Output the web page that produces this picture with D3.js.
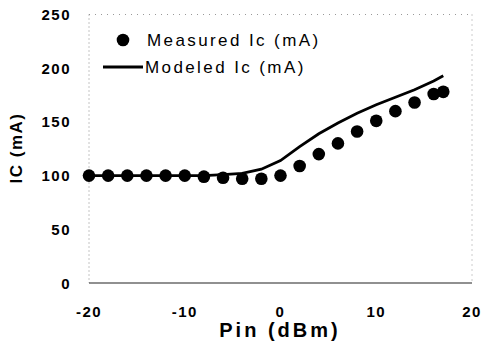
<!DOCTYPE html>
<html>
<head>
<meta charset="utf-8">
<script src="https://cdn.jsdelivr.net/npm/d3@7"></script>
<style>
  body { margin: 0; background: #fff; }
  text { font-family: "Liberation Sans", Arial, sans-serif; }
</style>
</head>
<body>
<div class="chart"></div>
<script>
// measured points
var measX = [-20, -18, -16, -14, -12, -10, -8, -6, -4, -2, 0, 2, 4, 6, 8, 10, 12, 14, 16, 17];
var measY = [100, 100, 100, 100, 100, 100, 99, 98, 97, 97, 100, 109, 120, 130, 141, 151, 160, 168, 176, 178];

// model line
var modX = [-20, -18, -16, -14, -12, -10, -8, -6, -4, -2, 0, 2, 4, 6, 8, 10, 12, 14, 16, 17];
var modY = [100, 100, 100, 100, 100, 100, 100, 101, 102, 106, 114, 127, 139, 149, 158, 166, 173, 180, 188, 193];

var xTicks = [-20, -10, 0, 10, 20];
var yTicks = [0, 50, 100, 150, 200, 250];

var width = 484, height = 346;
var plotL = 89, plotR = 472, plotT = 14.5, plotB = 283;

var svg = d3.select(".chart").append("svg")
  .attr("width", width)
  .attr("height", height);

var x = d3.scaleLinear().domain([-20, 20]).range([plotL, plotR]);
var y = d3.scaleLinear().domain([0, 250]).range([plotB, plotT]);

// frame: dotted top / right / left, solid bottom
svg.append("line").attr("x1", plotL).attr("x2", plotR).attr("y1", plotT).attr("y2", plotT)
  .attr("stroke", "#999").attr("stroke-width", 1).attr("stroke-dasharray", "1,5");
svg.append("line").attr("x1", plotR).attr("x2", plotR).attr("y1", plotT).attr("y2", plotB)
  .attr("stroke", "#999").attr("stroke-width", 1).attr("stroke-dasharray", "1,4");
svg.append("line").attr("x1", plotL).attr("x2", plotL).attr("y1", plotT).attr("y2", plotB)
  .attr("stroke", "#888").attr("stroke-width", 1).attr("stroke-dasharray", "1,3");
svg.append("line").attr("x1", plotL).attr("x2", plotR).attr("y1", plotB).attr("y2", plotB)
  .attr("stroke", "#222").attr("stroke-width", 1.2);

// tick labels
svg.selectAll(".yt").data(yTicks).enter().append("text")
  .attr("x", 71)
  .attr("y", function(d) { return y(d) + 5.5; })
  .attr("text-anchor", "end")
  .style("font-size", "15px").style("font-weight", "bold").style("letter-spacing", "1.5px")
  .text(function(d) { return d; });

svg.selectAll(".xt").data(xTicks).enter().append("text")
  .attr("x", function(d) { return x(d); })
  .attr("y", 317)
  .attr("text-anchor", "middle")
  .style("font-size", "15px").style("font-weight", "bold").style("letter-spacing", "1.5px")
  .text(function(d) { return d; });

// axis titles
svg.append("text")
  .attr("x", 280).attr("y", 337)
  .attr("text-anchor", "middle")
  .style("font-size", "20px").style("font-weight", "bold").style("letter-spacing", "3px")
  .text("Pin (dBm)");

svg.append("text")
  .attr("transform", "translate(22,148) rotate(-90)")
  .attr("text-anchor", "middle")
  .style("font-size", "17px").style("font-weight", "bold").style("letter-spacing", "1.5px")
  .text("IC (mA)");

// model line
var pts = modX.map(function(d, i) { return [d, modY[i]]; });
svg.append("path")
  .datum(pts)
  .attr("d", d3.line().x(function(d) { return x(d[0]); }).y(function(d) { return y(d[1]); }))
  .attr("fill", "none").attr("stroke", "#000").attr("stroke-width", 2.8);

// measured dots
svg.selectAll(".dot").data(measX).enter().append("circle")
  .attr("cx", function(d) { return x(d); })
  .attr("cy", function(d, i) { return y(measY[i]); })
  .attr("r", 6.3)
  .attr("fill", "#000");

// legend
svg.append("circle").attr("cx", 123).attr("cy", 40).attr("r", 6.3).attr("fill", "#000");
svg.append("text").attr("x", 147).attr("y", 46)
  .style("font-size", "17px").style("letter-spacing", "2.4px")
  .text("Measured Ic (mA)");
svg.append("line").attr("x1", 103).attr("x2", 143).attr("y1", 67).attr("y2", 67)
  .attr("stroke", "#000").attr("stroke-width", 2.8);
svg.append("text").attr("x", 145).attr("y", 73)
  .style("font-size", "17px").style("letter-spacing", "2.4px")
  .text("Modeled Ic (mA)");
</script>
</body>
</html>
